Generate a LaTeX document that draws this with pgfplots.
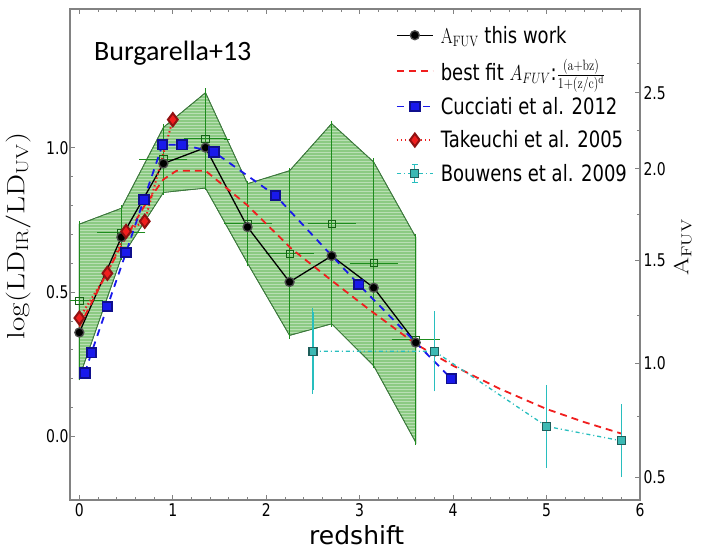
\documentclass[border=0pt]{standalone}
\usepackage[no-math]{fontspec}
\setmainfont{DejaVu Sans}
\newfontfamily\calibri{Carlito}
\usepackage{graphicx}
\usepackage{pgfplots}
\pgfplotsset{compat=1.18}
\usetikzlibrary{patterns}

\definecolor{envfill}{RGB}{128,196,118}
\definecolor{envedge}{RGB}{60,120,60}
\definecolor{gbar}{RGB}{30,140,30}
\definecolor{bluec}{RGB}{25,25,235}
\definecolor{redc}{RGB}{240,30,30}
\definecolor{cyanc}{RGB}{40,190,190}
\definecolor{cyanfill}{RGB}{60,185,180}
\definecolor{framec}{RGB}{130,130,130}

% the original figure is stretched vertically
\newcommand{\vs}[1]{\scalebox{1}[1.25]{#1}}
\newcommand{\hs}[1]{\scalebox{1.25}[1]{#1}}

\pgfplotsset{
  lineleg/.style={legend image code/.code={
    \draw[mark repeat=2,mark phase=2,##1] plot coordinates {(0pt,0pt) (18pt,0pt) (36pt,0pt)};}},
  bouwleg/.style={legend image code/.code={
    \draw[cyanc, solid, line width=1pt] (18pt,-9pt)--(18pt,9pt) (15pt,-9pt)--(21pt,-9pt) (15pt,9pt)--(21pt,9pt);
    \draw[mark repeat=2,mark phase=2,##1] plot coordinates {(0pt,0pt) (18pt,0pt) (36pt,0pt)};}},
}

\begin{document}
\begin{tikzpicture}
\useasboundingbox (0,0) rectangle (701pt,549pt);
\begin{axis}[
  at={(70pt,49pt)}, anchor=south west,
  scale only axis, width=570pt, height=491pt,
  xmin=-0.1, xmax=6, ymin=-0.22, ymax=1.48,
  xtick={0,1,2,3,4,5,6}, ytick={0,0.5,1},
  minor x tick num=4, minor y tick num=4,
  ytick pos=left,
  tick align=inside,
  major tick length=5pt, minor tick length=3pt,
  tick style={framec, line width=0.8pt},
  axis line style={framec, line width=1.6pt},
  /pgf/number format/assume math mode=true,
  tick label style={font=\fontsize{14}{14}\selectfont},
  xticklabel={\vs{\pgfmathprintnumber{\tick}}},
  yticklabel={\vs{\pgfmathprintnumber[fixed,fixed zerofill,precision=1]{\tick}}},
  yticklabel style={xshift=2pt},
  xlabel={redshift},
  xlabel style={font=\fontsize{25}{25}\selectfont, inner sep=0pt,
    at={(axis description cs:0.503,-0.0905)}, anchor=base},
  ylabel={\hs{$\log(\mathrm{LD_{IR}/LD_{UV}})$}},
  ylabel style={font=\fontsize{26}{26}\selectfont, at={(axis description cs:-0.091,0.538)}, anchor=center},
  legend style={draw=none, fill=none, at={(0.566,0.972)}, anchor=north west,
    font=\fontsize{18}{18}\selectfont, row sep=13pt, column sep=6pt,
    nodes={inner sep=1pt}},
  legend cell align=left,
  clip=true,
]

% green envelope
\addplot[draw=envedge, line width=0.8pt, fill=envfill, fill opacity=0.9,
  postaction={pattern=horizontal lines, pattern color=white!45!envfill}, forget plot]
  coordinates {
  (0,0.735)(0.45,0.79)(0.9,1.07)(1.35,1.19)(1.8,0.875)(2.25,0.92)(2.7,1.083)(3.15,0.95)(3.6,0.69)
  (3.6,-0.02)(3.15,0.245)(2.7,0.39)(2.25,0.35)(1.8,0.60)(1.35,0.86)(0.9,0.845)(0.45,0.62)(0,0.205)
  } -- cycle;

% green points with error bars
\addplot[only marks, mark=square, mark size=3.6pt, mark options={draw=gbar!70!black, line width=0.8pt},
  forget plot,
  error bars/.cd, x dir=both, x explicit, y dir=both, y explicit,
  error bar style={gbar, line width=1pt}, error mark options={gbar, mark size=3pt, line width=0.8pt}]
  coordinates {
  (0,0.47) +- (0.225,0.265)
  (0.45,0.705) +- (0.225,0.085)
  (0.9,0.96) +- (0.225,0.112)
  (1.35,1.03) +- (0.225,0.165)
  (1.8,0.737) +- (0.225,0.138)
  (2.25,0.633) +- (0.225,0.285)
  (2.7,0.737) +- (0.225,0.346)
  (3.15,0.60) +- (0.225,0.352)
  (3.6,0.335) +- (0.225,0.355)
  };

% this work
\addplot[black, line width=1.3pt, lineleg, mark=*, mark size=4.5pt,
  mark options={fill=black, draw=black!70}]
  coordinates {
  (0,0.36)(0.45,0.69)(0.9,0.945)(1.35,1.0)(1.8,0.725)(2.25,0.535)(2.7,0.625)(3.15,0.515)(3.6,0.325)
  };
\addlegendentry{\vs{$\mathrm{A_{FUV}}$ this work}}

% best fit
\addplot[redc, line width=1.8pt, lineleg, dash pattern=on 7pt off 5pt]
  coordinates {
  (0,0.38)(0.3,0.57)(0.5,0.69)(0.7,0.80)(0.9,0.89)(1.04,0.92)(1.35,0.92)(1.8,0.80)(2.27,0.65)
  (2.7,0.54)(3.1,0.44)(3.6,0.32)(4.0,0.245)(4.5,0.165)(5.0,0.095)(5.4,0.05)(5.8,0.01)
  };
\addlegendentry{\vs{best fit $A_{FUV}$:$\frac{(\mathrm{a+bz})}{1+(\mathrm{z/c})^{\mathrm{d}}}$}}

% Cucciati
\addplot[bluec, line width=1.8pt, lineleg, dash pattern=on 7pt off 6pt, mark=square*, mark size=4.8pt,
  mark options={solid, fill=bluec, draw=bluec!60!black}]
  coordinates {
  (0.06,0.22)(0.13,0.29)(0.30,0.45)(0.50,0.637)(0.69,0.82)(0.89,1.01)(1.10,1.01)(1.44,0.985)
  (2.10,0.834)(2.99,0.526)(3.98,0.20)
  };
\addlegendentry{\vs{Cucciati et al. 2012}}

% Takeuchi
\addplot[redc, line width=2pt, lineleg, dash pattern=on 1.5pt off 2.5pt, mark=diamond*, mark size=6.5pt,
  mark options={solid, fill=redc, draw=redc!60!black}]
  coordinates {
  (0,0.41)(0.3,0.565)(0.5,0.71)(0.7,0.745)(1.0,1.097)
  };
\addlegendentry{\vs{Takeuchi et al. 2005}}

% Bouwens
\addplot[cyanc, line width=1.3pt, dash pattern=on 4pt off 3pt on 1pt off 3pt, bouwleg,
  mark=square*, mark size=4pt, mark options={solid, fill=cyanfill, draw=cyanfill!50!black},
  error bars/.cd, y dir=both, y explicit,
  error bar style={cyanc, line width=1.2pt, solid}, error mark options={cyanc, mark size=4pt, line width=1pt}]
  coordinates {
  (2.5,0.295) +- (0,0.135)
  (3.8,0.295) +- (0,0.125)
  (5.0,0.035) +- (0,0.13)
  (5.8,-0.015) +- (0,0.112)
  };
\addlegendentry{\vs{Bouwens et al. 2009}}

\node[anchor=base west, font=\calibri\fontsize{28}{28}\selectfont] at (axis cs:0.12,1.30) {Burgarella+13};
\end{axis}

% right axis: A_FUV
\begin{axis}[
  at={(70pt,49pt)}, anchor=south west,
  scale only axis, width=570pt, height=491pt,
  xmin=-0.1, xmax=6, ymin=-0.22, ymax=1.48,
  axis x line=none, axis y line*=right,
  axis line style={framec, line width=1.6pt},
  tick align=inside,
  major tick length=5pt, minor tick length=3pt,
  tick style={framec, line width=0.8pt},
  ytick={-0.142,0.253,0.609,0.927,1.190},
  yticklabels={\vs{0.5},\vs{1.0},\vs{1.5},\vs{2.0},\vs{2.5}},
  minor ytick={1.29,1.06,0.77,0.42,0.07},
  tick label style={font=\fontsize{14}{14}\selectfont},
  ylabel={\hs{$\mathrm{A_{FUV}}$}},
  ylabel style={font=\fontsize{21}{21}\selectfont, at={(axis description cs:1.075,0.515)}, anchor=center},
]
\addplot[draw=none] coordinates {(0,0)};
\end{axis}
\end{tikzpicture}
\end{document}
